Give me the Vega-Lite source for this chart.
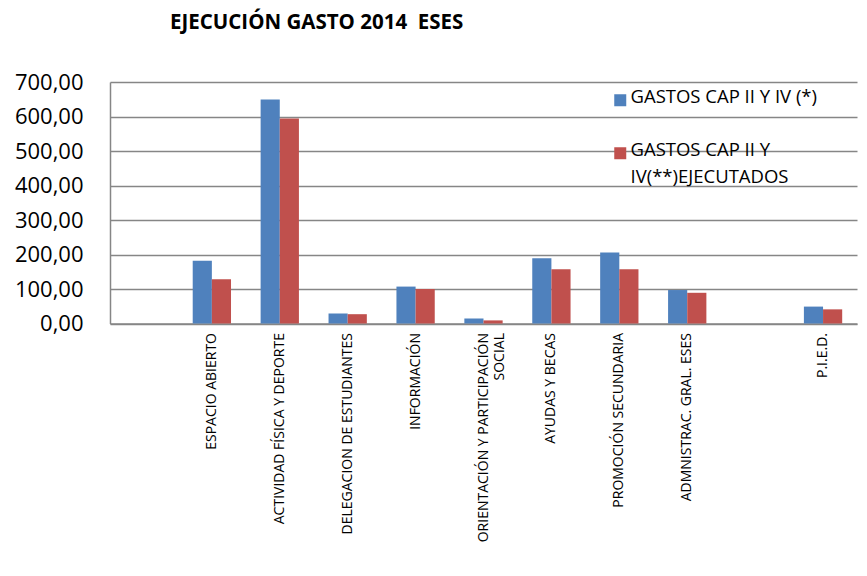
{
  "$schema": "https://vega.github.io/schema/vega-lite/v6.json",
  "width": 747,
  "height": 241.5,
  "autosize": {"type": "none"},
  "padding": {"left": 110, "top": 82, "right": 10, "bottom": 252.5},
  "background": "white",
  "title": {
    "text": "EJECUCIÓN GASTO 2014\u00a0 ESES",
    "anchor": "start",
    "frame": "group",
    "dx": 60,
    "offset": 38,
    "font": "Open Sans",
    "fontSize": 20.5,
    "fontWeight": "bold",
    "color": "#000000"
  },
  "data": {
    "values": [
      {"categoria": "ESPACIO ABIERTO", "serie": "GASTOS CAP II Y IV (*)", "valor": 182},
      {"categoria": "ESPACIO ABIERTO", "serie": "GASTOS CAP II Y IV(**)EJECUTADOS", "valor": 128},
      {"categoria": "ACTIVIDAD FÍSICA Y DEPORTE", "serie": "GASTOS CAP II Y IV (*)", "valor": 649},
      {"categoria": "ACTIVIDAD FÍSICA Y DEPORTE", "serie": "GASTOS CAP II Y IV(**)EJECUTADOS", "valor": 594},
      {"categoria": "DELEGACION DE  ESTUDIANTES", "serie": "GASTOS CAP II Y IV (*)", "valor": 29},
      {"categoria": "DELEGACION DE  ESTUDIANTES", "serie": "GASTOS CAP II Y IV(**)EJECUTADOS", "valor": 27},
      {"categoria": "INFORMACIÓN", "serie": "GASTOS CAP II Y IV (*)", "valor": 107},
      {"categoria": "INFORMACIÓN", "serie": "GASTOS CAP II Y IV(**)EJECUTADOS", "valor": 100},
      {"categoria": "ORIENTACIÓN Y PARTICIPACIÓN SOCIAL", "serie": "GASTOS CAP II Y IV (*)", "valor": 14.5},
      {"categoria": "ORIENTACIÓN Y PARTICIPACIÓN SOCIAL", "serie": "GASTOS CAP II Y IV(**)EJECUTADOS", "valor": 9},
      {"categoria": "AYUDAS Y BECAS", "serie": "GASTOS CAP II Y IV (*)", "valor": 189},
      {"categoria": "AYUDAS Y BECAS", "serie": "GASTOS CAP II Y IV(**)EJECUTADOS", "valor": 157},
      {"categoria": "PROMOCIÓN SECUNDARIA", "serie": "GASTOS CAP II Y IV (*)", "valor": 206},
      {"categoria": "PROMOCIÓN SECUNDARIA", "serie": "GASTOS CAP II Y IV(**)EJECUTADOS", "valor": 157},
      {"categoria": "ADMNISTRAC. GRAL. ESES", "serie": "GASTOS CAP II Y IV (*)", "valor": 97},
      {"categoria": "ADMNISTRAC. GRAL. ESES", "serie": "GASTOS CAP II Y IV(**)EJECUTADOS", "valor": 89},
      {"categoria": "P.I.E.D.", "serie": "GASTOS CAP II Y IV (*)", "valor": 49},
      {"categoria": "P.I.E.D.", "serie": "GASTOS CAP II Y IV(**)EJECUTADOS", "valor": 41}
    ]
  },
  "mark": {"type": "bar"},
  "encoding": {
    "x": {
      "field": "categoria",
      "type": "nominal",
      "scale": {
        "domain": ["", "ESPACIO ABIERTO", "ACTIVIDAD FÍSICA Y DEPORTE", "DELEGACION DE  ESTUDIANTES", "INFORMACIÓN", "ORIENTACIÓN Y PARTICIPACIÓN SOCIAL", "AYUDAS Y BECAS", "PROMOCIÓN SECUNDARIA", "ADMNISTRAC. GRAL. ESES", " ", "P.I.E.D."],
        "paddingInner": 0.436,
        "paddingOuter": 0.218
      },
      "axis": {
        "title": null,
        "labelAngle": 270,
        "labelFont": "Open Sans",
        "labelFontSize": 14,
        "labelColor": "#000000",
        "labelPadding": 9,
        "labelLimit": 0,
        "ticks": false,
        "domainColor": "#868686",
        "domainWidth": 1.5,
        "labelExpr": "datum.label == 'ORIENTACIÓN Y PARTICIPACIÓN SOCIAL' ? ['ORIENTACIÓN Y PARTICIPACIÓN', 'SOCIAL'] : datum.label"
      }
    },
    "xOffset": {
      "field": "serie",
      "type": "nominal",
      "scale": {"domain": ["GASTOS CAP II Y IV (*)", "GASTOS CAP II Y IV(**)EJECUTADOS"]}
    },
    "y": {
      "field": "valor",
      "type": "quantitative",
      "scale": {"domain": [0, 700], "nice": false},
      "axis": {
        "title": null,
        "values": [0, 100, 200, 300, 400, 500, 600, 700],
        "labelExpr": "replace(format(datum.value, '.2f'), '.', ',')",
        "labelFont": "Open Sans",
        "labelFontSize": 22,
        "labelColor": "#000000",
        "labelPadding": 27,
        "ticks": false,
        "domainColor": "#868686",
        "domainWidth": 1.5,
        "gridColor": "#868686",
        "gridWidth": 1.5
      }
    },
    "color": {
      "field": "serie",
      "type": "nominal",
      "scale": {
        "domain": ["GASTOS CAP II Y IV (*)", "GASTOS CAP II Y IV(**)EJECUTADOS"],
        "range": ["#4F81BD", "#C0504D"]
      },
      "legend": {
        "title": null,
        "orient": "none",
        "legendX": 501,
        "legendY": 9,
        "symbolType": "square",
        "symbolSize": 144,
        "symbolStrokeWidth": 0,
        "labelFont": "Open Sans",
        "labelFontSize": 18.5,
        "labelColor": "#000000",
        "labelOffset": 1,
        "labelLimit": 0,
        "labelBaseline": "top",
        "rowPadding": 33,
        "labelExpr": "datum.label == 'GASTOS CAP II Y IV(**)EJECUTADOS' ? ['GASTOS CAP II Y', 'IV(**)EJECUTADOS'] : datum.label",
        "encode": {
          "labels": {"update": {"dy": {"value": -12.5}, "lineHeight": {"value": 27}}}
        }
      }
    }
  },
  "config": {
    "view": {"stroke": null}
  }
}
